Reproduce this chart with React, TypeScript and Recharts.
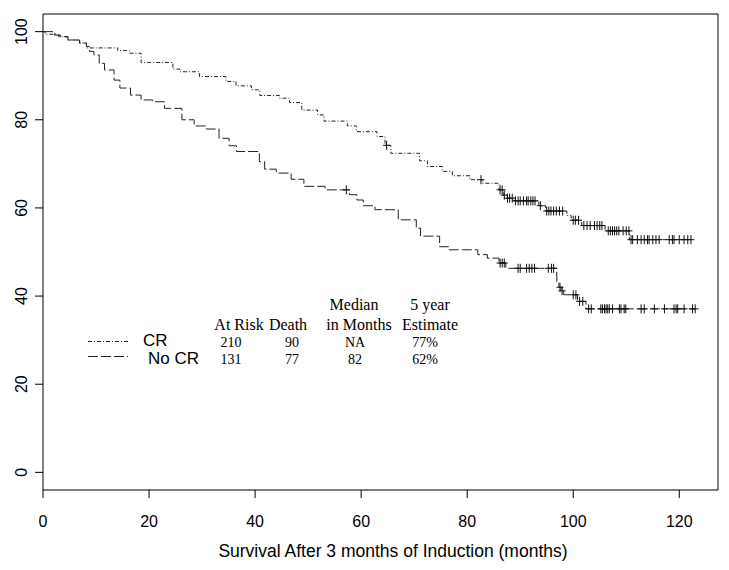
import React from 'react';
import { ComposedChart, Line, Scatter, XAxis, YAxis, ReferenceArea } from 'recharts';

// step times (months) and survival (%) after each step
const crTimes = [0, 0.4, 3.0, 4.7, 6.9, 8.2, 14.1, 16.3, 18.5, 24.5, 25.8, 29.5, 34.5, 36.4, 39.3, 40.9, 44.6, 46.5, 48.8, 51.8, 53.0, 57.4, 59.1, 63.0, 64.5, 65.6, 71.0, 72.5, 75.3, 77.2, 80.5, 82.8, 86.0, 86.8, 87.5, 88.8, 93.5, 94.8, 98.8, 99.6, 101.6, 106.0, 110.6];
const crSurv = [100, 99.4, 98.8, 98.1, 97.4, 96.3, 95.7, 95.1, 93.0, 91.5, 90.9, 89.8, 88.7, 87.7, 86.8, 85.5, 84.9, 83.9, 82.2, 81.1, 79.7, 78.6, 77.3, 76.2, 74.2, 72.4, 70.7, 69.4, 68.3, 67.3, 66.4, 65.6, 64.1, 62.9, 62.2, 61.6, 60.5, 59.3, 58.3, 57.2, 56.0, 54.8, 52.8];
const crEnd = 122.2;
const crCensor = [64.8, 82.6, 86.2, 86.6, 87.0, 87.6, 88.0, 88.5, 89.1, 89.6, 90.0, 90.6, 91.2, 91.5, 92.0, 92.4, 92.8, 93.8, 95.0, 95.4, 95.8, 96.3, 96.8, 97.4, 98.0, 100.0, 100.4, 101.0, 102.0, 102.6, 103.2, 104.0, 104.5, 105.0, 105.4, 106.6, 107.0, 107.4, 107.8, 108.2, 108.6, 109.4, 110.0, 110.5, 110.9, 111.2, 112.1, 112.8, 113.4, 114.0, 114.3, 115.0, 115.6, 116.2, 118.1, 118.7, 119.0, 120.0, 120.9, 121.6, 122.2];

const noCrTimes = [0, 2.2, 3.3, 4.7, 6.9, 8.2, 8.8, 9.6, 10.6, 11.6, 13.4, 14.5, 16.5, 18.5, 20.7, 22.9, 26.2, 28.5, 30.8, 33.2, 35.1, 36.5, 40.8, 41.8, 44.0, 46.8, 49.2, 53.2, 57.8, 59.2, 60.4, 62.6, 67.0, 70.4, 71.2, 74.8, 76.5, 82.0, 83.8, 86.0, 87.3, 96.9, 97.3, 97.7, 98.2, 100.8, 102.4];
const noCrSurv = [100, 99.2, 98.9, 98.1, 97.4, 96.6, 95.5, 94.7, 92.8, 91.3, 89.0, 87.2, 85.6, 84.5, 84.1, 82.6, 80.0, 78.6, 77.9, 75.8, 74.1, 72.8, 70.5, 68.8, 67.9, 66.5, 64.9, 64.1, 63.0, 61.8, 60.5, 59.6, 57.3, 55.4, 53.6, 51.2, 50.5, 49.4, 48.6, 47.5, 46.3, 43.0, 42.0, 41.2, 40.3, 38.8, 37.1];
const noCrEnd = 123.0;
const noCrCensor = [57.2, 86.2, 86.6, 87.0, 89.6, 90.0, 91.2, 91.7, 92.2, 92.7, 95.3, 95.9, 96.3, 97.5, 97.9, 100.0, 100.5, 101.2, 101.8, 102.9, 103.4, 105.2, 105.5, 105.9, 106.2, 106.5, 106.8, 107.4, 108.7, 109.0, 109.6, 109.9, 112.8, 113.4, 115.3, 117.2, 119.0, 119.4, 119.7, 120.9, 122.5, 123.0];

const xTicks = [0, 20, 40, 60, 80, 100, 120];
const yTicks = [0, 20, 40, 60, 80, 100];

const tableHead1 = [{ text: 'Median', x: 354 }, { text: '5 year', x: 430 }];
const tableHead2 = [{ text: 'At Risk', x: 239 }, { text: 'Death', x: 288 }, { text: 'in Months', x: 359 }, { text: 'Estimate', x: 430 }];
const crRow = ['210', '90', 'NA', '77%'];
const noCrRow = ['131', '77', '82', '62%'];
const colX = [231, 292, 355, 425];

const X_MAX = 127.3;

function stepData(times: number[], surv: number[], end: number) {
  const pts = times.map((t, i) => ({ t, s: surv[i] }));
  pts.push({ t: end, s: surv[surv.length - 1] });
  return pts;
}

function censorData(cens: number[], times: number[], surv: number[]) {
  return cens.map((c) => {
    let s = surv[0];
    for (let i = 0; i < times.length; i++) if (times[i] <= c) s = surv[i];
    return { t: c, s };
  });
}

const crLine = stepData(crTimes, crSurv, crEnd);
const noCrLine = stepData(noCrTimes, noCrSurv, noCrEnd);
const crMarks = censorData(crCensor, crTimes, crSurv);
const noCrMarks = censorData(noCrCensor, noCrTimes, noCrSurv);

const Plus = (props: any) => {
  const { cx, cy } = props;
  if (cx == null || cy == null) return null;
  return (
    <path d={`M${cx - 3.5},${cy}H${cx + 3.5}M${cx},${cy - 4.5}V${cy + 4.5}`} stroke="#111" strokeWidth={1} fill="none" />
  );
};

const XTick = (props: any) => {
  const { x, y, payload } = props;
  return (
    <text x={x} y={y + 27} textAnchor="middle" fontFamily="Liberation Sans, Arial, sans-serif" fontSize={16} fill="#000">
      {payload.value}
    </text>
  );
};

const YTick = (props: any) => {
  const { x, y, payload } = props;
  return (
    <g transform={`translate(${x - 6},${y}) rotate(-90)`}>
      <text x={0} y={0} textAnchor="middle" fontFamily="Liberation Sans, Arial, sans-serif" fontSize={16} fill="#000">
        {payload.value}
      </text>
    </g>
  );
};

const serif = 'Liberation Serif, Times New Roman, serif';
const sans = 'Liberation Sans, Arial, sans-serif';

export default function App() {
  return (
    <div style={{ position: 'absolute', left: 0, top: 0, width: 729, height: 570, background: '#fff' }}>
      <ComposedChart width={729} height={570} margin={{ top: 14, right: 11, bottom: 50, left: 0 }}>
        <XAxis
          type="number"
          dataKey="t"
          domain={[0, X_MAX]}
          ticks={xTicks}
          allowDataOverflow
          height={30}
          axisLine={false}
          tickLine={{ stroke: '#000' }}
          tickSize={8}
          tick={<XTick />}
        />
        <YAxis
          type="number"
          dataKey="s"
          domain={[-4, 104]}
          ticks={yTicks}
          allowDataOverflow
          width={43}
          axisLine={false}
          tickLine={{ stroke: '#000' }}
          tickSize={8}
          tick={<YTick />}
        />
        <ReferenceArea x1={0} x2={X_MAX} y1={-4} y2={104} fill="none" fillOpacity={0} stroke="#000" strokeWidth={1} ifOverflow="visible" />
        <Line data={crLine} dataKey="s" type="stepAfter" stroke="#222" strokeWidth={1} strokeDasharray="4 2 1 2" dot={false} isAnimationActive={false} />
        <Line data={noCrLine} dataKey="s" type="stepAfter" stroke="#222" strokeWidth={1} strokeDasharray="10 3" dot={false} isAnimationActive={false} />
        <Scatter data={crMarks} dataKey="s" shape={<Plus />} isAnimationActive={false} />
        <Scatter data={noCrMarks} dataKey="s" shape={<Plus />} isAnimationActive={false} />
      </ComposedChart>
      <svg width={729} height={570} style={{ position: 'absolute', left: 0, top: 0, pointerEvents: 'none' }}>
        <line x1={88} x2={128} y1={341.5} y2={341.5} stroke="#222" strokeDasharray="4 2 1 2" />
        <line x1={88} x2={128} y1={356.5} y2={356.5} stroke="#222" strokeDasharray="10 3" />
        <text x={143} y={346} fontFamily={sans} fontSize={17} fill="#000">CR</text>
        <text x={148} y={364} fontFamily={sans} fontSize={17} fill="#000">No CR</text>
        {tableHead1.map((h) => (
          <text key={h.text} x={h.x} y={310} textAnchor="middle" fontFamily={serif} fontSize={16} fill="#000">{h.text}</text>
        ))}
        {tableHead2.map((h) => (
          <text key={h.text} x={h.x} y={330} textAnchor="middle" fontFamily={serif} fontSize={16} fill="#000">{h.text}</text>
        ))}
        {crRow.map((v, i) => (
          <text key={'cr' + i} x={colX[i]} y={346.5} textAnchor="middle" fontFamily={serif} fontSize={14} fill="#000">{v}</text>
        ))}
        {noCrRow.map((v, i) => (
          <text key={'nc' + i} x={colX[i]} y={364} textAnchor="middle" fontFamily={serif} fontSize={14} fill="#000">{v}</text>
        ))}
        <text x={393} y={557} textAnchor="middle" fontFamily={sans} fontSize={17.5} fill="#000">
          Survival After 3 months of Induction (months)
        </text>
      </svg>
    </div>
  );
}
